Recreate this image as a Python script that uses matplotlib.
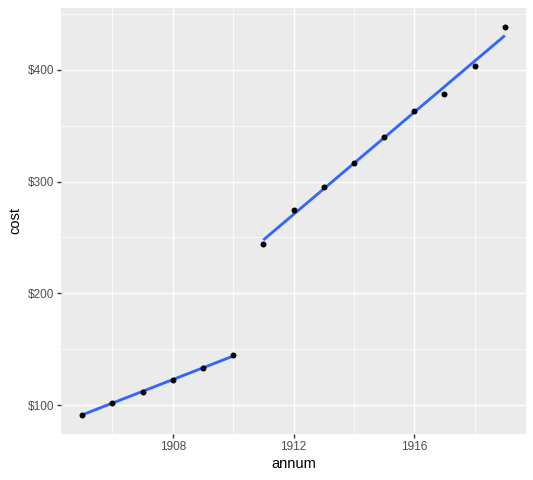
import matplotlib
matplotlib.use("Agg")
import matplotlib.pyplot as plt
import numpy as np
from matplotlib.ticker import FixedLocator, FuncFormatter

plt.rcParams['font.family'] = ['Liberation Sans', 'DejaVu Sans']

annum = [1905, 1906, 1907, 1908, 1909, 1910,
         1911, 1912, 1913, 1914, 1915, 1916, 1917, 1918, 1919]
cost = [91.5, 102, 112, 122.5, 133, 144.5,
        244, 275, 295, 317, 340, 363, 378, 403, 438]
break_year = 1910

x_major = [1908, 1912, 1916]
x_minor = [1906, 1910, 1914, 1918]
y_major = [100, 200, 300, 400]
y_minor = [150, 250, 350, 450]

W, H = 533, 480
DPI = 96
fig = plt.figure(figsize=(W / DPI, H / DPI), dpi=DPI)
ax = fig.add_axes([61 / W, 1 - 434 / H, (526 - 61) / W, (434 - 8) / H])
ax.set_facecolor('#EBEBEB')
for s in ax.spines.values():
    s.set_visible(False)

x = np.array(annum, dtype=float)
y = np.array(cost, dtype=float)
xr = x.max() - x.min()
yr = y.max() - y.min()
ax.set_xlim(x.min() - 0.05 * xr, x.max() + 0.05 * xr)
ax.set_ylim(y.min() - 0.05 * yr, y.max() + 0.05 * yr)

ax.xaxis.set_major_locator(FixedLocator(x_major))
ax.xaxis.set_minor_locator(FixedLocator(x_minor))
ax.yaxis.set_major_locator(FixedLocator(y_major))
ax.yaxis.set_minor_locator(FixedLocator(y_minor))
ax.yaxis.set_major_formatter(FuncFormatter(lambda v, p: f"${v:.0f}"))
ax.grid(which='major', color='white', linewidth=1.07)
ax.grid(which='minor', color='white', linewidth=0.53)
ax.set_axisbelow(True)
ax.tick_params(which='major', length=2.75, width=1.07, color='#333333',
               labelcolor='#4D4D4D', labelsize=8.8, pad=2.2)
ax.tick_params(which='minor', length=0)

for mask in [x <= break_year, x > break_year]:
    xs, ys = x[mask], y[mask]
    b, a = np.polyfit(xs, ys, 1)
    xx = np.array([xs.min(), xs.max()])
    ax.plot(xx, a + b * xx, color='#3366FF', linewidth=2.13, zorder=3,
            solid_capstyle='butt')

ax.scatter(x, y, s=20, color='black', zorder=4, linewidths=0)

ax.set_xlabel('annum', fontsize=11, color='black', labelpad=3)
ax.set_ylabel('cost', fontsize=11, color='black', labelpad=4)

fig.savefig('out.png', dpi=DPI)
